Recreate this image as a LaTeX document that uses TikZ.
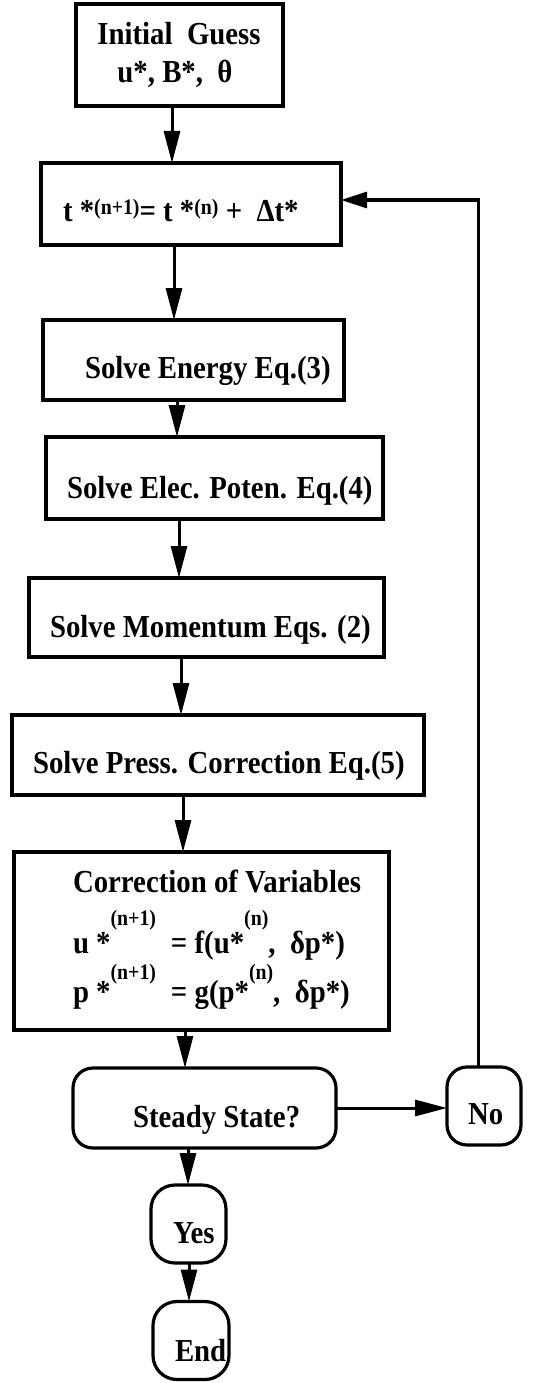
\documentclass[tikz,border=0pt]{standalone}
\usepackage{fontspec}
\setmainfont{Liberation Serif}[FakeStretch=0.9]
\usetikzlibrary{arrows.meta}
\newcommand{\smallsup}[2]{\raisebox{#1}{\fontsize{22}{22}\selectfont #2}}
\begin{document}
\begin{tikzpicture}[x=1pt,y=-1pt,
 box/.style={draw, line width=3.2pt, inner sep=0pt, outer sep=0pt},
 rbox/.style={box, rounded corners=20pt},
 rbbox/.style={box, rounded corners=24pt},
 txt/.style={inner sep=0pt, outer sep=0pt, font=\fontsize{32}{38}\selectfont\bfseries},
 arr/.style={line width=3pt, -{Triangle[length=32pt,width=16pt]}},
 farr/.style={line width=3pt, -{Triangle[length=26pt,width=16pt]}}]
\useasboundingbox (0,0) rectangle (556,1383);
\fill[white] (0,0) rectangle (556,1383);

% boxes
\node[box, minimum width=207pt, minimum height=102pt] (b1) at (179.5,55) {};
\node[box, minimum width=300pt, minimum height=82pt] (b2) at (191,204) {};
\node[box, minimum width=301pt, minimum height=80pt] (b3) at (193.5,360) {};
\node[box, minimum width=337pt, minimum height=82pt] (b4) at (214.5,478) {};
\node[box, minimum width=355pt, minimum height=79pt] (b5) at (206.5,617.5) {};
\node[box, minimum width=412pt, minimum height=80pt] (b6) at (218,755) {};
\node[box, minimum width=375pt, minimum height=178pt] (b7) at (201.5,941) {};
\node[rbox, minimum width=263pt, minimum height=80pt] (ss) at (204.5,1108) {};
\node[rbox, minimum width=74pt, minimum height=78pt] (no) at (484,1106) {};
\node[rbbox, minimum width=75pt, minimum height=78pt] (yes) at (188.5,1224) {};
\node[rbbox, minimum width=76pt, minimum height=78pt] (end) at (191,1340.5) {};

% texts
\node[txt, anchor=base] (t1a) at (179,45) {Initial\ \ Guess};
\node[txt, anchor=base] (t1b) at (175,83) {u*, B*,\ \ θ};
\node[txt, anchor=base west] (t2) at (63,222) {t *\smallsup{7pt}{(n+1)}= t *\smallsup{7pt}{(n)} +\ \ Δt*};
\node[txt, anchor=base west] (t3) at (85,378) {Solve Energy Eq.(3)};
\node[txt, anchor=base west] (t4) at (67,498) {Solve Elec. Poten. Eq.(4)};
\node[txt, anchor=base west] (t5) at (50,637) {Solve Momentum Eqs. (2)};
\node[txt, anchor=base west] (t6) at (33,773) {Solve Press. Correction Eq.(5)};
\node[txt, anchor=base west] (t7a) at (73,892) {Correction of Variables};
\node[txt, anchor=base west] (t7b) at (73,953) {u *\smallsup{28pt}{(n+1)}\hspace{15pt}=\ f(u*\smallsup{28pt}{(n)},\ \ δp*)};
\node[txt, anchor=base west] (t7c) at (73,1002) {p *\smallsup{23pt}{(n+1)}\hspace{15pt}=\ g(p*\smallsup{23pt}{(n)},\ \ δp*)};
\node[txt, anchor=base west] (tss) at (133,1127) {Steady State?};
\node[txt, anchor=base west] (tno) at (468,1124) {No};
\node[txt, anchor=base west] (tyes) at (173,1243) {Yes};
\node[txt, anchor=base west] (tend) at (175,1361) {End};

% connectors
\draw[arr] ([xshift=-7.5pt]b1.south) -- ([xshift=-7.5pt]b1.south |- b2.north);
\draw[arr] ([xshift=-17pt]b2.south) -- ([xshift=-17pt]b2.south |- b3.north);
\draw[arr] ([xshift=-16.5pt]b3.south) -- ([xshift=-16.5pt]b3.south |- b4.north);
\draw[arr] ([xshift=-35.5pt]b4.south) -- ([xshift=-35.5pt]b4.south |- b5.north);
\draw[arr] ([xshift=-25.5pt]b5.south) -- ([xshift=-25.5pt]b5.south |- b6.north);
\draw[arr] ([xshift=-35pt]b6.south) -- ([xshift=-35pt]b6.south |- b7.north);
\draw[arr] ([xshift=-16.5pt]b7.south) -- ([xshift=-16.5pt]b7.south |- ss.north);
\draw[arr] ([xshift=-16.5pt]ss.south) -- ([xshift=-16.5pt]ss.south |- yes.north);
\draw[arr] ([xshift=0.5pt]yes.south) -- ([xshift=0.5pt]yes.south |- end.north);
\draw[arr] (ss.east) -- (ss.east -| no.west);
\draw[farr] ([xshift=-6pt]no.north) |- ([yshift=4pt]b2.east);
\end{tikzpicture}
\end{document}
